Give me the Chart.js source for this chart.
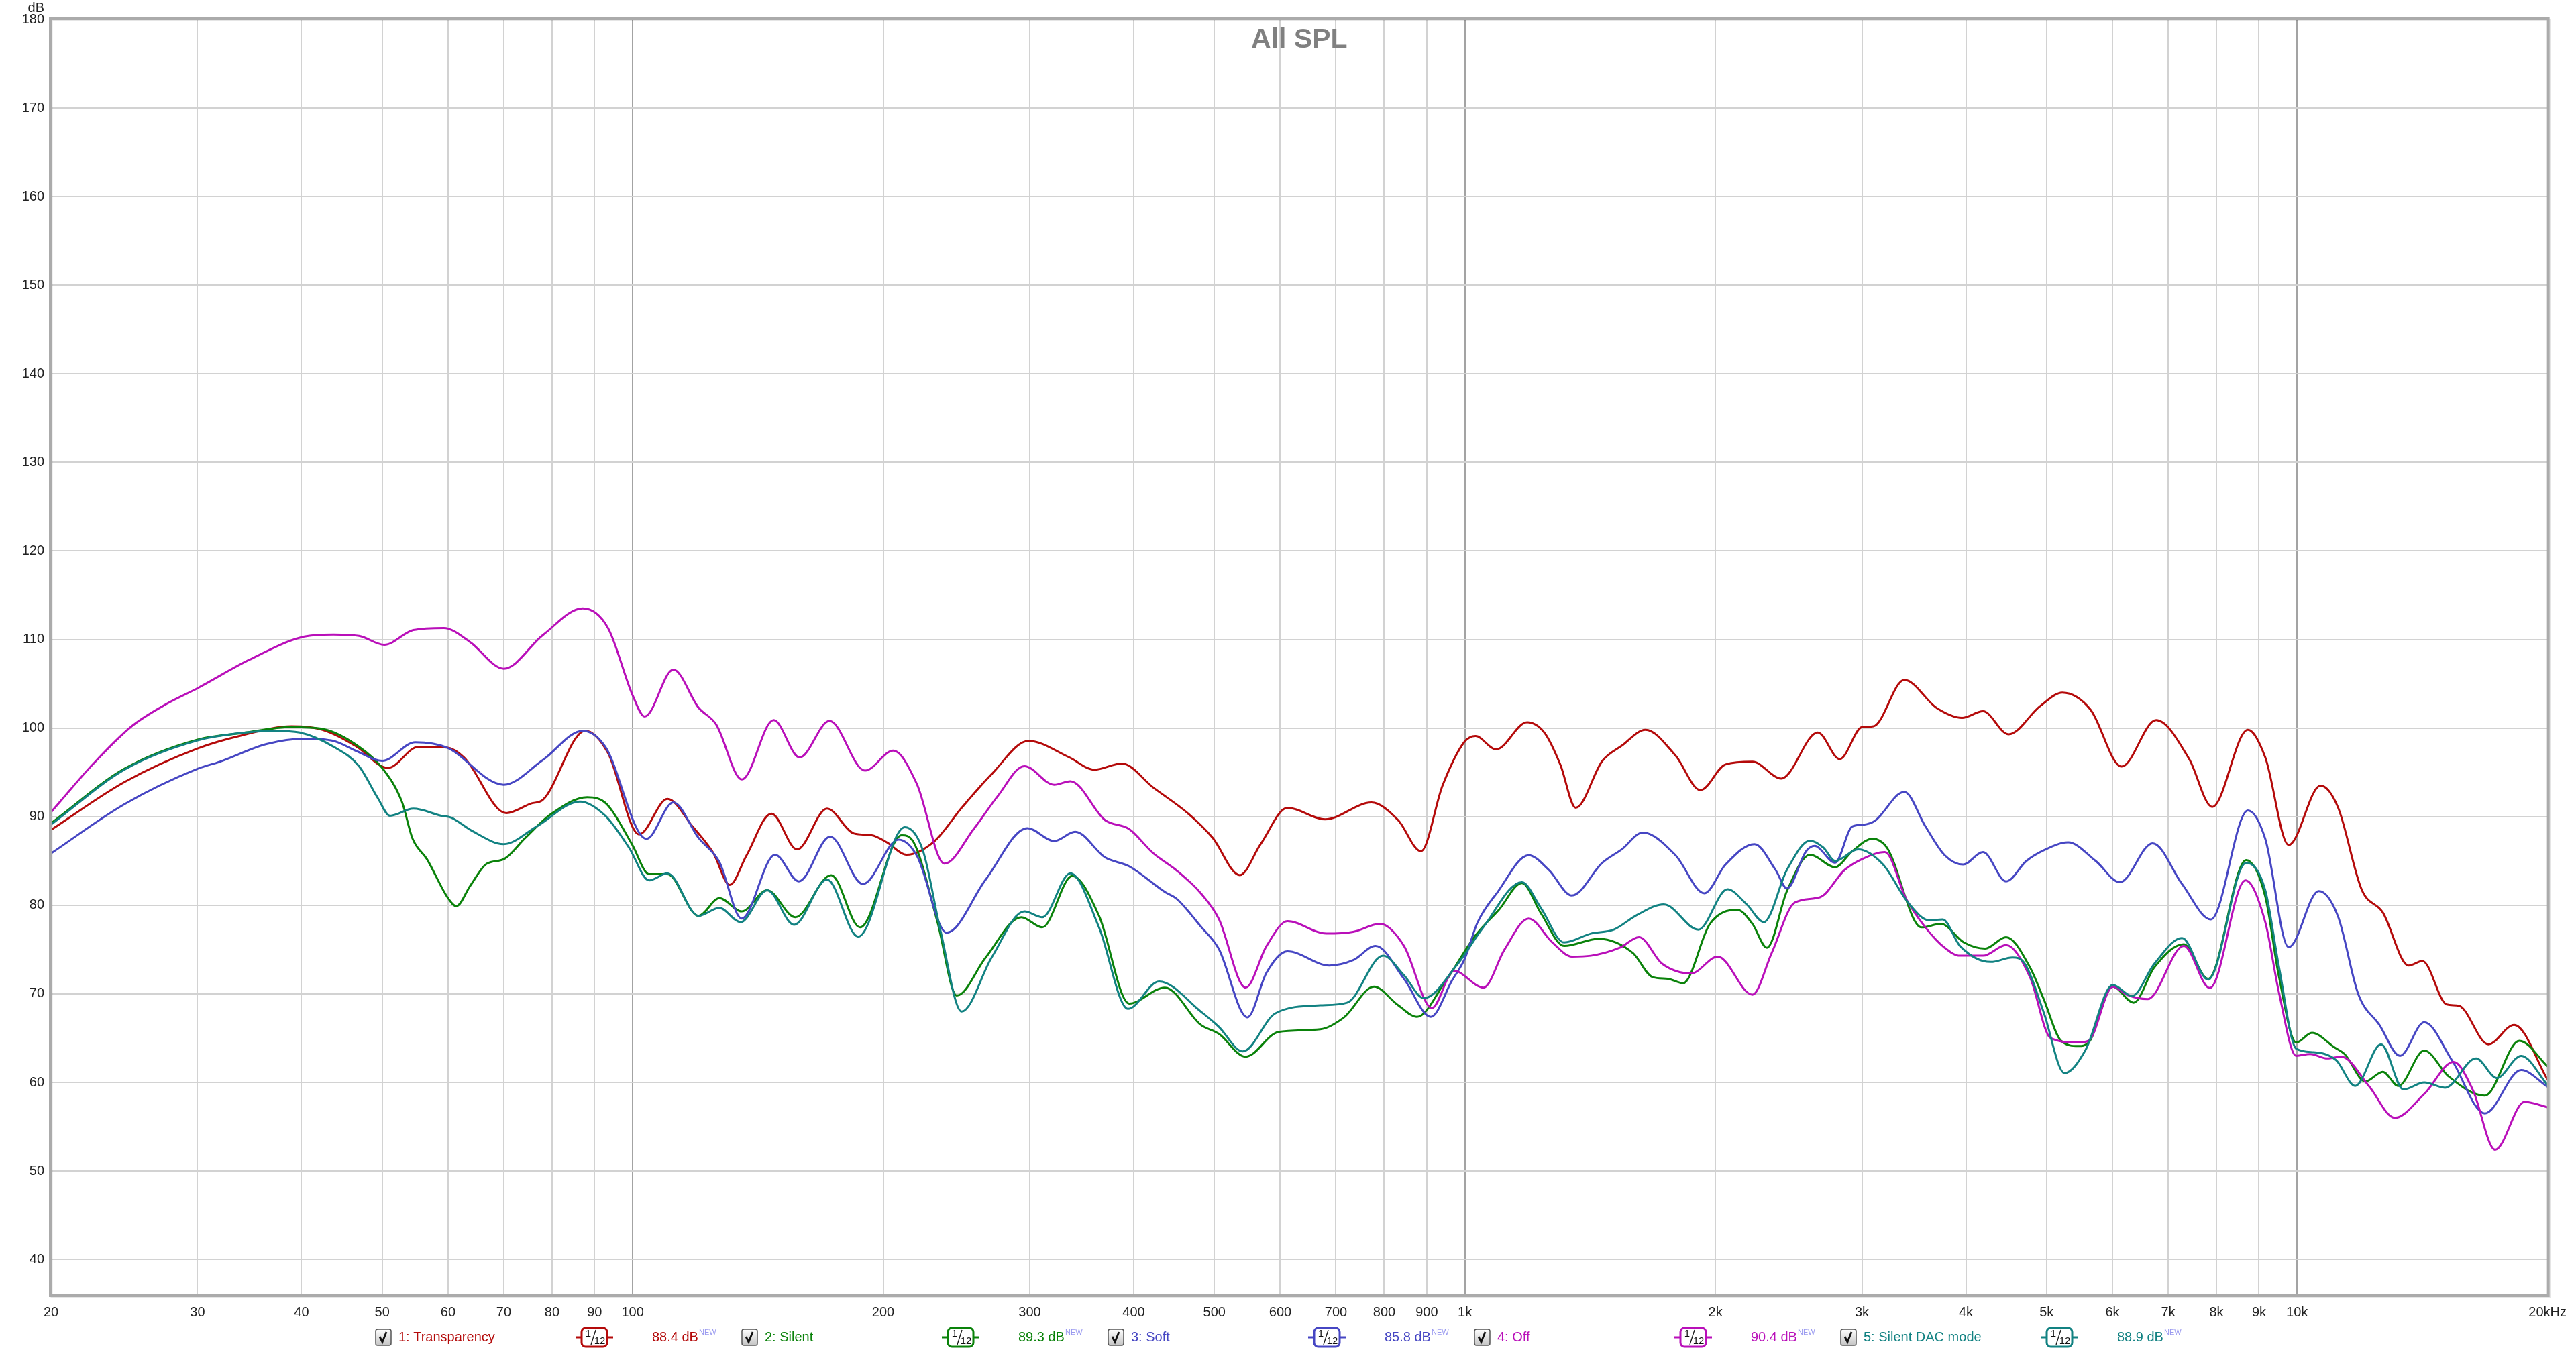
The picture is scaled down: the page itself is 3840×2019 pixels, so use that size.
<!DOCTYPE html>
<html><head><meta charset="utf-8">
<script src="https://cdn.jsdelivr.net/npm/chart.js@4.4.1/dist/chart.umd.min.js"></script>
<style>html,body{margin:0;padding:0;background:#fff;overflow:hidden}#wrap{width:3840px;height:2019px}</style>
</head><body><div id="wrap"><canvas id="c" width="3840" height="2019" style="width:3840px;height:2019px"></canvas></div>
<script>
// ---------- data ----------
const xTicks = [20,30,40,50,60,70,80,90,100,200,300,400,500,600,700,800,900,1000,2000,3000,4000,5000,6000,7000,8000,9000,10000,20000];
const xTickLabels = ['20','30','40','50','60','70','80','90','100','200','300','400','500','600','700','800','900','1k','2k','3k','4k','5k','6k','7k','8k','9k','10k','20kHz'];
const decadeLines = [100,1000,10000];
const yTicks = [40,50,60,70,80,90,100,110,120,130,140,150,160,170,180];

const seriesNames = ['1: Transparency','2: Silent','3: Soft','4: Off','5: Silent DAC mode'];
const seriesLevels = ['88.4','89.3','85.8','90.4','88.9'];

const transparency = [[20,88.5],[24.5,93.9],[30,97.7],[34,99.2],[38.9,100.2],[42.4,99.8],[46.6,97.9],[50.8,95.5],[55.3,97.9],[59.8,97.8],[62.7,96.7],[70.5,90.4],[75.6,91.5],[78,91.9],[87.7,99.7],[93.4,97.2],[101.8,88.0],[110.1,92.0],[118,88.9],[125,85.9],[130.8,82.3],[137,85.6],[146.8,90.35],[157.6,86.3],[171.2,90.9],[184.5,88.1],[193.8,87.9],[202,87.1],[213.4,85.7],[230.6,87.25],[248.5,91.0],[270,94.8],[299,98.55],[334.6,96.7],[358.6,95.3],[387,96.0],[422,93.3],[465.8,90.3],[497.8,87.6],[536.4,83.4],[568.3,86.9],[612,91.0],[679.2,89.7],[772,91.6],[831.5,89.6],[885.5,86.1],[940,93.5],[998,98.4],[1030,99.1],[1090,97.6],[1188,100.65],[1248,99.4],[1302,95.9],[1359,91.0],[1463,96.3],[1543,98.0],[1648,99.8],[1791,96.9],[1919,93.0],[2057,95.9],[2216,96.2],[2400,94.3],[2655,99.5],[2821,96.5],[3000,100.1],[3098,100.2],[3373,105.45],[3692,102.25],[3957,101.15],[4194,101.9],[4500,99.3],[4915,102.5],[5224,104.0],[5645,102.1],[6153,95.65],[6771,100.9],[7415,96.55],[7907,91.1],[8727,99.8],[9157,96.7],[9771,86.8],[10670,93.5],[11194,91.1],[11966,81.7],[12674,79.2],[13614,73.2],[14146,73.7],[15128,68.8],[15645,68.65],[16976,64.3],[18234,66.5],[20000,60.3]];

const silent = [[20,89.25],[24.5,95.4],[30,98.7],[34,99.45],[38.9,100.1],[42.4,99.9],[46.9,97.9],[50,95.5],[52.8,91.7],[54.4,87.5],[56.6,85.2],[60,80.8],[61.4,79.9],[63.8,82.2],[66.8,84.7],[70,85.2],[74.3,87.6],[79.8,90.3],[88.2,92.2],[93,91.45],[99.8,86.9],[104.7,83.5],[110.1,83.5],[120,78.8],[127.1,80.8],[135.2,79.3],[145.1,81.7],[156.8,78.65],[173.2,83.4],[187.6,77.5],[210.5,87.9],[217.6,87.1],[232.4,78.1],[245.2,69.8],[265.6,74.1],[293.1,78.65],[310.6,77.5],[337.4,83.3],[363.4,78.8],[395,68.9],[436,70.7],[481.6,66.5],[506,65.5],[545.2,62.9],[597,65.7],[670.4,66.0],[716,67.35],[777.7,70.8],[831.5,68.7],[876,67.4],[946,71.3],[1030,76.6],[1099,79.5],[1171,82.5],[1234,79.1],[1316,75.4],[1448,76.2],[1592,74.6],[1680,71.9],[1753,71.7],[1829,71.2],[1970,77.9],[2124,79.5],[2216,77.9],[2307,75.2],[2438,81.6],[2599,85.7],[2785,84.3],[2921,86.1],[3088,87.5],[3215,86.5],[3538,77.5],[3732,77.9],[3977,75.8],[4218,75.1],[4470,76.4],[4775,73.0],[4961,69.4],[5205,64.7],[5460,64.1],[5617,64.5],[6007,70.8],[6363,69.0],[6738,73.0],[7309,75.6],[7818,71.7],[8685,85.1],[9157,81.0],[9513,71.9],[9976,64.5],[10418,65.6],[11088,63.95],[11405,63.2],[12081,60.1],[12674,61.2],[13233,59.6],[14218,63.6],[15201,60.7],[16812,58.5],[18498,64.7],[20000,61.8]];

const soft = [[20,85.85],[24.5,91.4],[30,95.4],[31.9,96.2],[36.3,98.2],[40.4,98.8],[43.7,98.55],[46.6,97.4],[50,96.3],[54.8,98.4],[59.8,97.8],[70,93.6],[78,96.4],[87.1,99.7],[92.7,97.9],[103.9,87.5],[111.9,91.6],[120,87.6],[127.1,84.9],[135.2,78.5],[148.3,85.7],[158.4,82.7],[172.7,87.75],[189.1,82.4],[208.7,87.4],[219.5,85.6],[238.4,76.9],[265.6,82.9],[298,88.7],[321,87.25],[340.2,88.3],[369.6,85.4],[395,84.4],[436,81.5],[450.8,80.7],[481.6,77.6],[506,75.1],[547.9,67.35],[577.7,72.4],[612,74.8],[687.3,73.2],[734,73.8],[781,75.4],[845,71.7],[910,67.4],[965,71.5],[1000,74.0],[1035,78.0],[1095,81.5],[1193,85.65],[1261,84.0],[1344.5,81.1],[1463,84.8],[1543,86.3],[1636,88.2],[1791,85.65],[1940,81.35],[2057,84.6],[2228,86.9],[2362,84.0],[2438,81.9],[2571,86.1],[2632,86.7],[2785,84.8],[2921,88.9],[3016,89.1],[3107,89.5],[3373,92.8],[3576,88.9],[3772,85.65],[3969,84.6],[4194,86.0],[4470,82.7],[4729,85.0],[4961,86.2],[5306,87.1],[5728,85.0],[6124,82.6],[6707,87.0],[7274,82.4],[7877,78.4],[8727,90.7],[9157,87.5],[9771,75.25],[10617,81.6],[11194,78.8],[11852,69.9],[12557,66.5],[13296,63.0],[14218,66.8],[15349,62.5],[16812,56.5],[18590,61.4],[20000,59.5]];

const off = [[20,90.5],[22.5,96.0],[25,100.2],[27.5,102.7],[30,104.5],[34.6,107.7],[40,110.25],[43.7,110.55],[46.9,110.4],[50.3,109.4],[54.5,111.06],[59.3,111.3],[63.7,109.75],[70,106.7],[78,110.5],[87.1,113.5],[93.4,111.3],[100,103.7],[103.4,101.3],[111.9,106.6],[120,102.3],[126,100.4],[135.3,94.2],[147.7,100.9],[158.7,96.7],[172.4,100.8],[190.2,95.2],[205.6,97.45],[219.5,93.7],[237,84.7],[256.9,88.6],[274.5,92.3],[295.6,95.7],[321,93.6],[335.7,94.0],[369.6,89.6],[395,88.6],[421.9,85.9],[450.8,83.9],[481.6,81.35],[506,78.5],[545.2,70.7],[577.7,75.4],[612.2,78.2],[681.6,76.8],[734,77.0],[790.9,77.9],[845,75.4],[913,68.4],[970,72.6],[1053,70.7],[1116,75.0],[1193,78.5],[1274,75.8],[1344.5,74.2],[1417,74.3],[1535,75.2],[1619,76.4],[1726,73.4],[1870,72.3],[2013,74.2],[2216,69.9],[2337,74.6],[2491,80.3],[2670,80.9],[2861,84.0],[3000,85.2],[3197,86.0],[3391,80.7],[3576,77.5],[3772,75.2],[3935,74.3],[4194,74.3],[4470,75.5],[4775,71.9],[5057,65.0],[5460,64.5],[5617,64.7],[6007,70.8],[6243,69.9],[6612,69.4],[7309,75.4],[7855,70.65],[8668,82.8],[9157,78.1],[9513,70.1],[9976,63.0],[10367,63.2],[10876,62.7],[11300,62.9],[12196,59.6],[13103,56.0],[14218,58.7],[15420,62.3],[16255,59.2],[17299,52.4],[18766,57.8],[20000,57.2]];

const silentDac = [[20,89.1],[24.5,95.3],[30,98.6],[33.5,99.4],[37.1,99.7],[39.8,99.5],[43.7,97.9],[46.9,95.7],[49.4,92.1],[51.1,90.1],[54.5,90.9],[58.9,90.1],[60.5,89.9],[64.1,88.4],[70,86.9],[76.7,88.9],[86.4,91.7],[92.7,90.1],[99,86.5],[104.7,82.8],[110.1,83.6],[120,78.8],[127.1,79.7],[134.8,78.1],[145.1,81.7],[156.3,77.8],[171.2,82.9],[186.6,76.45],[212.3,88.8],[223.2,86.2],[234.4,77.1],[248.5,68.0],[270,74.1],[295.6,79.3],[310.6,78.65],[335.7,83.6],[363.4,77.5],[393.7,68.3],[429,71.4],[481.6,68.0],[506,66.3],[540.8,63.5],[592,67.8],[670.4,68.7],[722,69.0],[797.4,74.3],[845,72.1],[893,69.5],[977,73.2],[1052,77.5],[1171,82.6],[1234,79.7],[1316,75.8],[1417,76.8],[1510,77.25],[1610,78.9],[1734,80.1],[1908,77.25],[2068,81.8],[2181,80.1],[2287,78.1],[2438,84.0],[2599,87.3],[2697,86.5],[2785,85.0],[2968,86.3],[3180,84.6],[3409,80.3],[3614,78.3],[3751,78.4],[3935,75.4],[4285,73.6],[4550,74.1],[4700,73.5],[4961,67.9],[5255,61.05],[5565,63.6],[6007,71.0],[6333,69.75],[6738,73.4],[7274,76.3],[7818,71.6],[8685,84.8],[9157,81.7],[9513,73.0],[9976,63.8],[10468,63.4],[11142,62.5],[11745,59.6],[12616,64.3],[13425,59.2],[14218,60.0],[15055,59.4],[16409,62.7],[17379,60.5],[18590,63.0],[20000,59.7]];

const seriesData = [transparency, silent, soft, off, silentDac];
const seriesColors = ['#b40a0a','#0a820a','#4646c3','#b90fb9','#128282'];

// ---------- chart ----------
const FONT = "'Liberation Sans', Arial, Helvetica, sans-serif";

const decor = {
  id: 'decor',
  afterDraw(chart) {
    const ctx = chart.ctx, a = chart.chartArea;
    ctx.save();
    // frame
    ctx.strokeStyle = 'rgba(0,0,0,0.10)';
    ctx.lineWidth = 3;
    ctx.strokeRect(a.left + 1, a.top + 1, a.right - a.left + 2, a.bottom - a.top + 2);
    ctx.strokeStyle = '#ababab';
    ctx.lineWidth = 4;
    ctx.strokeRect(a.left - 1, a.top - 1, a.right - a.left + 2, a.bottom - a.top + 2);
    // title
    ctx.fillStyle = '#808080';
    ctx.font = 'bold 41px ' + FONT;
    ctx.textAlign = 'center';
    ctx.textBaseline = 'alphabetic';
    ctx.fillText('All SPL', (a.left + a.right) / 2, 71);
    // unit
    ctx.fillStyle = '#222';
    ctx.font = '20px ' + FONT;
    ctx.textAlign = 'right';
    ctx.textBaseline = 'middle';
    ctx.fillText('dB', 66, 12);
    // legend
    const y = 1994;
    for (let i = 0; i < seriesNames.length; i++) {
      const cx = 571 + i * 546;
      const col = seriesColors[i];
      // checkbox
      const g = ctx.createLinearGradient(0, y - 12, 0, y + 12);
      g.addColorStop(0, '#ffffff'); g.addColorStop(1, '#c4c4c4');
      ctx.fillStyle = g;
      ctx.beginPath(); ctx.roundRect(cx - 11, y - 12, 23, 24, 3); ctx.fill();
      ctx.strokeStyle = '#555'; ctx.lineWidth = 1.5; ctx.stroke();
      ctx.strokeStyle = '#111'; ctx.lineWidth = 2.8;
      ctx.beginPath(); ctx.moveTo(cx - 5, y - 1); ctx.lineTo(cx - 1, y + 7); ctx.lineTo(cx + 5, y - 8); ctx.stroke();
      // name
      ctx.fillStyle = col;
      ctx.font = '20px ' + FONT;
      ctx.textAlign = 'left';
      ctx.textBaseline = 'middle';
      ctx.fillText(seriesNames[i], cx + 23, y);
      // smoothing icon
      const fx = cx + 315;
      ctx.strokeStyle = col; ctx.lineWidth = 3;
      ctx.beginPath(); ctx.moveTo(fx - 28, y); ctx.lineTo(fx - 19, y); ctx.moveTo(fx + 19, y); ctx.lineTo(fx + 28, y); ctx.stroke();
      ctx.beginPath(); ctx.roundRect(fx - 19, y - 14, 38, 28, 6); ctx.stroke();
      ctx.fillStyle = '#111';
      ctx.font = '15px ' + FONT;
      ctx.textAlign = 'center';
      ctx.fillText('1', fx - 9, y - 5);
      ctx.fillText('12', fx + 8, y + 6);
      ctx.strokeStyle = '#111'; ctx.lineWidth = 1.3;
      ctx.beginPath(); ctx.moveTo(fx - 5, y + 11); ctx.lineTo(fx + 2, y - 11); ctx.stroke();
      // level
      ctx.fillStyle = col;
      ctx.font = '20px ' + FONT;
      ctx.textAlign = 'left';
      const t = seriesLevels[i] + ' dB';
      ctx.fillText(t, cx + 401, y);
      const w = ctx.measureText(t).width;
      ctx.fillStyle = '#9a9af0';
      ctx.font = '11px ' + FONT;
      ctx.fillText('NEW', cx + 401 + w + 1, y - 7);
    }
    ctx.restore();
  }
};

const datasets = seriesData.map((d, i) => ({
  label: seriesNames[i],
  data: d.map(p => ({x: p[0], y: p[1]})),
  borderColor: seriesColors[i],
  backgroundColor: seriesColors[i],
  borderWidth: 3,
  pointRadius: 0,
  fill: false,
  cubicInterpolationMode: 'monotone',
  order: 5 - i
}));

new Chart(document.getElementById('c'), {
  type: 'line',
  data: { datasets },
  options: {
    responsive: false,
    animation: false,
    devicePixelRatio: 1,
    layout: { padding: { left: 0, right: 36, top: 29, bottom: 0 } },
    plugins: { legend: { display: false }, tooltip: { enabled: false }, title: { display: false } },
    scales: {
      x: {
        type: 'logarithmic', min: 20, max: 20000,
        afterBuildTicks: s => { s.ticks = xTicks.map(v => ({ value: v })); },
        afterFit: s => { s.height = 88; },
        ticks: {
          autoSkip: false, maxRotation: 0, minRotation: 0, padding: 14,
          color: '#222', font: { family: FONT, size: 20 },
          callback: (v, i) => xTickLabels[i]
        },
        grid: {
          drawTicks: false, lineWidth: 2,
          color: c => (c.tick && decadeLines.includes(c.tick.value)) ? '#a3a3a3' : '#d2d2d2'
        },
        border: { display: false }
      },
      y: {
        type: 'linear', min: 36, max: 180,
        afterBuildTicks: s => { s.ticks = yTicks.map(v => ({ value: v })); },
        afterFit: s => { s.width = 76; },
        ticks: { padding: 10, color: '#222', font: { family: FONT, size: 20 } },
        grid: { drawTicks: false, lineWidth: 2, color: '#d2d2d2' },
        border: { display: false }
      }
    }
  },
  plugins: [decor]
});
</script></body></html>
